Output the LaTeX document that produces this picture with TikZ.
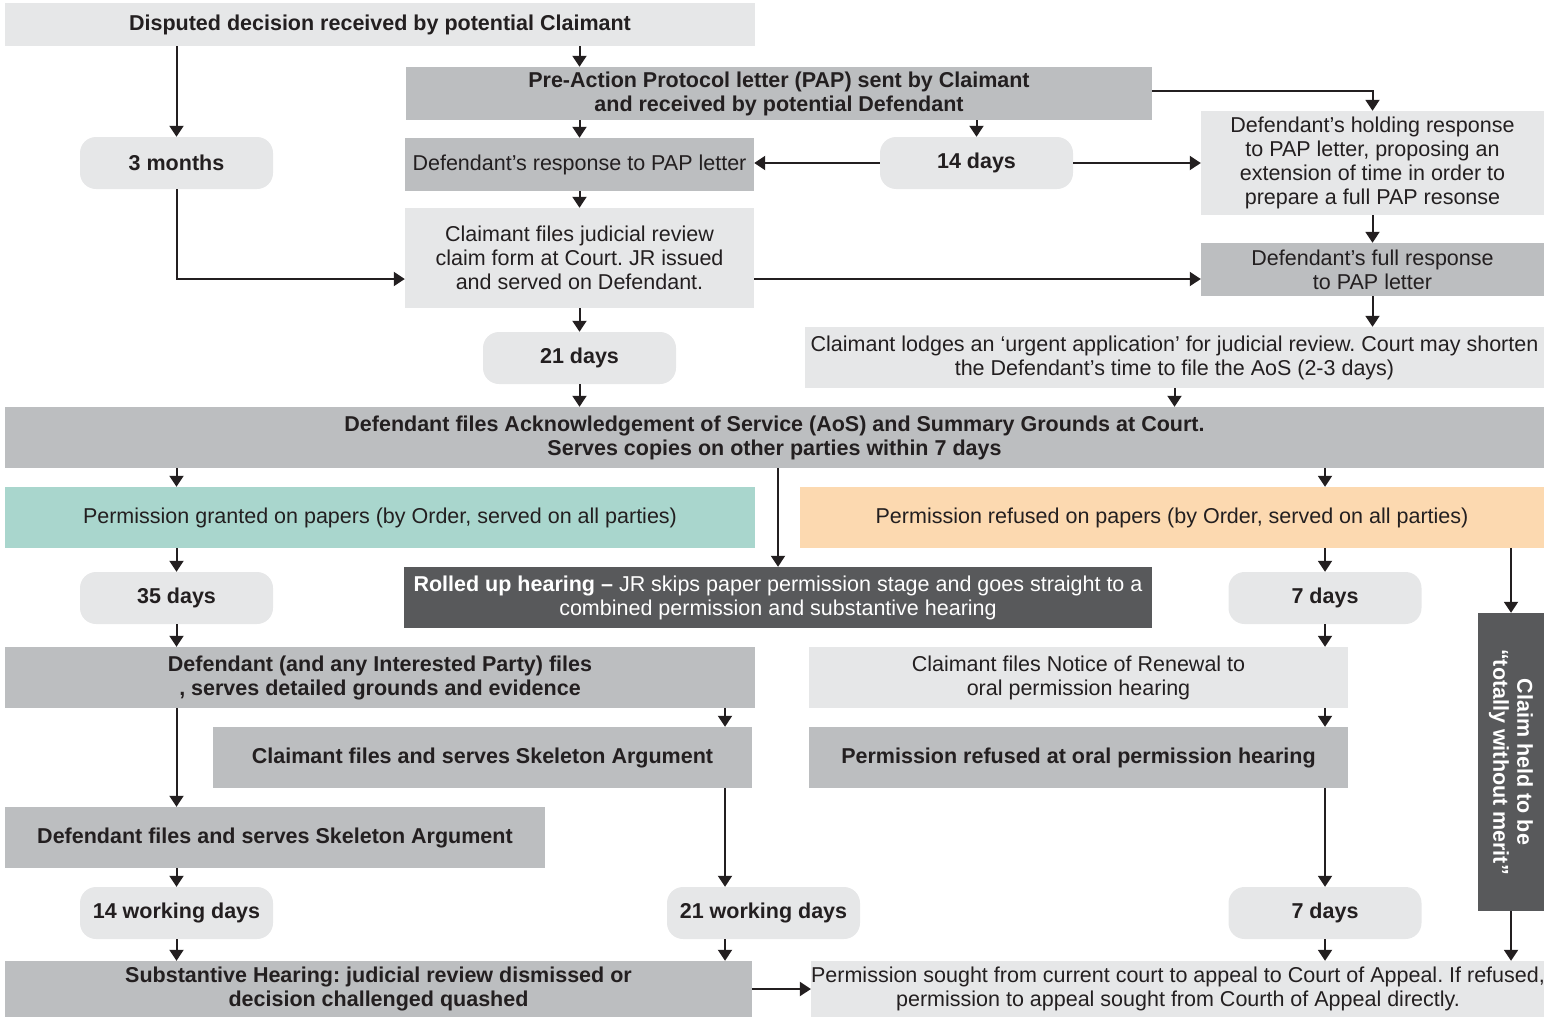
\documentclass[tikz,border=0pt]{standalone}
\usepackage{fontspec}
\setmainfont{Liberation Sans}
\usetikzlibrary{arrows.meta}
\frenchspacing

\definecolor{boxlight}{HTML}{E6E7E8}
\definecolor{boxmid}{HTML}{BCBEC0}
\definecolor{boxdark}{HTML}{58595B}
\definecolor{grantteal}{HTML}{A9D6CD}
\definecolor{refusepeach}{HTML}{FCD9B0}
\definecolor{arrowcol}{HTML}{231F20}

\tikzset{
    box/.style={inner sep=0pt, align=center, text=arrowcol,
        font=\fontsize{21.5}{24}\selectfont},
    light/.style={box, fill=boxlight},
    mid/.style={box, fill=boxmid},
    dark/.style={box, fill=boxdark, text=white},
    pill/.style={light, rounded corners=16pt, minimum width=193pt,
        minimum height=52pt},
    flow/.style={-{Triangle[length=11pt, width=14pt]}, line width=2pt,
        arrowcol},
}

\begin{document}
\begin{tikzpicture}[x=1pt, y=-1pt]
    \useasboundingbox (0, 0) rectangle (1544, 1017);

    \node[light, minimum width=750pt, minimum height=43pt] (dis) at (380, 24.5)
        {\bfseries Disputed decision received by potential Claimant};
    \node[mid, minimum width=746pt, minimum height=53pt] (pap) at (779, 93.5)
        {\bfseries Pre-Action Protocol letter (PAP) sent by Claimant\\
         \bfseries and received by potential Defendant};
    \node[pill] (tm) at (176.5, 163) {\bfseries 3 months};
    \node[mid, minimum width=349pt, minimum height=53pt] (dresp) at (579.5, 164.5)
        {Defendant’s response to PAP letter};
    \node[pill] (fourteen) at (976.5, 163) {\bfseries 14 days};
    \node[light, minimum width=343pt, minimum height=104pt] (hold) at (1372.5, 163)
        {Defendant’s holding response\\ to PAP letter, proposing an\\
         extension of time in order to\\ prepare a full PAP resonse};
    \node[light, minimum width=349pt, minimum height=100pt] (cfiles) at (579.5, 258)
        {Claimant files judicial review\\ claim form at Court. JR issued\\
         and served on Defendant.};
    \node[mid, minimum width=343pt, minimum height=53pt] (fullresp) at (1372.5, 269.5)
        {Defendant’s full response\\ to PAP letter};
    \node[pill] (twentyone) at (579.5, 358) {\bfseries 21 days};
    \node[light, minimum width=739pt, minimum height=61pt] (urgent) at (1174.5, 357.5)
        {Claimant lodges an ‘urgent application’ for judicial review. Court may shorten\\
         the Defendant’s time to file the AoS (2-3 days)};
    \node[mid, minimum width=1539pt, minimum height=61pt] (aos) at (774.5, 437.5)
        {\bfseries Defendant files Acknowledgement of Service (AoS) and Summary Grounds at Court.\\
         \bfseries Serves copies on other parties within 7 days};
    \node[box, fill=grantteal, minimum width=750pt, minimum height=61pt] (granted) at (380, 517.5)
        {Permission granted on papers (by Order, served on all parties)};
    \node[box, fill=refusepeach, minimum width=744pt, minimum height=61pt] (refused) at (1172, 517.5)
        {Permission refused on papers (by Order, served on all parties)};
    \node[pill] (thirtyfive) at (176.5, 598) {\bfseries 35 days};
    \node[dark, minimum width=748pt, minimum height=61pt] (rolled) at (778, 597.5)
        {\textbf{Rolled up hearing –} JR skips paper permission stage and goes straight to a\\
         combined permission and substantive hearing};
    \node[pill] (sevena) at (1325, 598) {\bfseries 7 days};
    \node[dark, rotate=-90, minimum width=298pt, minimum height=66pt] (merit) at (1511, 762)
        {\bfseries Claim held to be\\ \bfseries “totally without merit”};
    \node[mid, minimum width=750pt, minimum height=61pt] (dfiles) at (380, 677.5)
        {\bfseries Defendant (and any Interested Party) files\\
         \bfseries , serves detailed grounds and evidence};
    \node[light, minimum width=539pt, minimum height=61pt] (notice) at (1078.5, 677.5)
        {Claimant files Notice of Renewal to\\ oral permission hearing};
    \node[mid, minimum width=539pt, minimum height=61pt] (cskel) at (482.5, 757.5)
        {\bfseries Claimant files and serves Skeleton Argument};
    \node[mid, minimum width=539pt, minimum height=61pt] (oral) at (1078.5, 757.5)
        {\bfseries Permission refused at oral permission hearing};
    \node[mid, minimum width=540pt, minimum height=61pt] (dskel) at (275, 837.5)
        {\bfseries Defendant files and serves Skeleton Argument};
    \node[pill] (fourteenwd) at (176.5, 913) {\bfseries 14 working days};
    \node[pill] (twentyonewd) at (763.5, 913) {\bfseries 21 working days};
    \node[pill] (sevenb) at (1325, 913) {\bfseries 7 days};
    \node[mid, minimum width=747pt, minimum height=56pt] (subst) at (378.5, 989)
        {\bfseries Substantive Hearing: judicial review dismissed or\\
         \bfseries decision challenged quashed};
    \node[light, minimum width=732pt, minimum height=56pt] (sought) at (1178, 989)
        {Permission sought from current court to appeal to Court of Appeal. If refused,\\
         permission to appeal sought from Courth of Appeal directly.};

    \coordinate (skx) at (725, 0);

    \path[flow]
        (dis.south -| tm) edge (tm.north)
        (dis.south -| dresp) edge (pap.north -| dresp)
        (pap.south -| dresp) edge (dresp.north)
        (pap.south -| fourteen) edge (fourteen.north)
        (fourteen.west) edge (fourteen.west -| dresp.east)
        (fourteen.east) edge (fourteen.east -| hold.west)
        (dresp.south) edge (cfiles.north)
        (hold.south) edge (fullresp.north)
        (fullresp.south) edge (urgent.north -| fullresp)
        (cfiles.south) edge (twentyone.north)
        (twentyone.south) edge (aos.north -| twentyone)
        (urgent.south) edge (aos.north -| urgent)
        (aos.south -| tm) edge (granted.north -| tm)
        (aos.south -| rolled) edge (rolled.north)
        (aos.south -| sevena) edge (refused.north -| sevena)
        (granted.south -| tm) edge (thirtyfive.north)
        (thirtyfive.south) edge (dfiles.north -| thirtyfive)
        (refused.south -| sevena) edge (sevena.north)
        (refused.south -| merit) edge (merit.west)
        (sevena.south) edge (notice.north -| sevena)
        (notice.south -| sevena) edge (oral.north -| sevena)
        (dfiles.south -| skx) edge (cskel.north -| skx)
        (dfiles.south -| tm) edge (dskel.north -| tm)
        (cskel.south -| skx) edge (twentyonewd.north -| skx)
        (dskel.south -| tm) edge (fourteenwd.north)
        (fourteenwd.south) edge (subst.north -| fourteenwd)
        (twentyonewd.south -| skx) edge (subst.north -| skx)
        (oral.south -| sevenb) edge (sevenb.north)
        (sevenb.south) edge (sought.north -| sevenb)
        (merit.east) edge (sought.north -| merit)
        (subst.east) edge (subst.east -| sought.west);

    \draw[flow] (pap.east |- 0, 91) -| (hold.north);
    \draw[flow] (tm.south) |- ([yshift=-21pt]cfiles.west);
    \draw[flow] ([yshift=-21pt]cfiles.east) -- ([yshift=-21pt]cfiles.east -| fullresp.west);
\end{tikzpicture}
\end{document}
